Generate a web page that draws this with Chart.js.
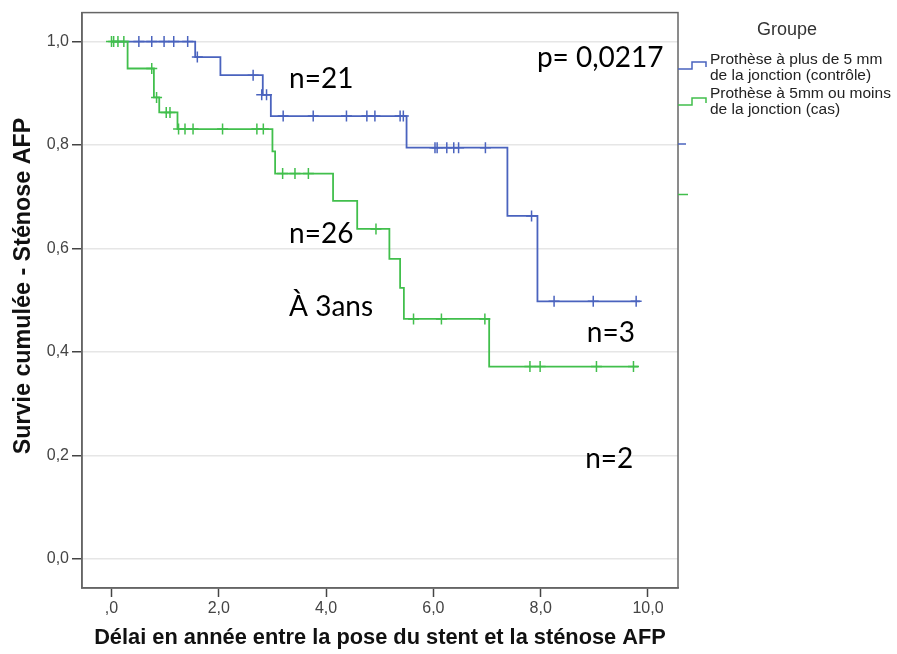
<!DOCTYPE html>
<html><head><meta charset="utf-8">
<script src="https://cdn.jsdelivr.net/npm/chart.js@4/dist/chart.umd.min.js"></script>
<style>html,body{margin:0;padding:0;background:#fff;} #c{display:block;}</style>
</head><body>
<canvas id="c" width="897" height="654"></canvas>
<script>
// ---- Axis ticks ----
const xTickValues = [0, 2, 4, 6, 8, 10];
const xTickLabels = [",0", "2,0", "4,0", "6,0", "8,0", "10,0"];
const yTickValues = [0, 0.2, 0.4, 0.6, 0.8, 1.0];
const yTickLabels = ["0,0", "0,2", "0,4", "0,6", "0,8", "1,0"];

// ---- Groups ----
const groupTitle = "Groupe";
const controlLabel = ["Prothèse à plus de 5 mm", "de la jonction (contrôle)"];
const caseLabel = ["Prothèse à 5mm ou moins", "de la jonction (cas)"];

// ---- Control group (blue) Kaplan-Meier steps ----
const controlTimes = [0, 1.56, 2.03, 2.82, 2.97, 5.50, 7.38, 7.94, 9.85];
const controlSurv  = [1.0, 0.970, 0.935, 0.897, 0.856, 0.795, 0.663, 0.498, 0.498];
const controlCensorTimes = [0.51, 0.75, 0.98, 1.16, 1.42, 1.60, 2.64, 2.80, 2.89, 3.20, 3.76, 4.38, 4.76, 4.91, 5.38, 5.44, 6.03, 6.07, 6.25, 6.38, 6.47, 6.97, 7.83, 8.25, 8.98, 9.78];
const controlCensorSurv  = [1.0, 1.0, 1.0, 1.0, 1.0, 0.970, 0.935, 0.897, 0.897, 0.856, 0.856, 0.856, 0.856, 0.856, 0.856, 0.856, 0.795, 0.795, 0.795, 0.795, 0.795, 0.795, 0.663, 0.498, 0.498, 0.498];

// ---- Case group (green) Kaplan-Meier steps ----
const caseTimes = [0, 0.30, 0.79, 0.89, 1.23, 3.00, 3.05, 4.13, 4.58, 5.18, 5.38, 5.45, 7.04, 9.82];
const caseSurv  = [1.0, 0.948, 0.892, 0.863, 0.831, 0.788, 0.745, 0.692, 0.638, 0.580, 0.524, 0.464, 0.372, 0.372];
const caseCensorTimes = [0.00, 0.04, 0.12, 0.23, 0.75, 0.84, 1.02, 1.09, 1.25, 1.37, 1.52, 2.07, 2.71, 2.83, 3.19, 3.42, 3.67, 4.93, 5.63, 6.15, 6.96, 7.80, 7.99, 9.04, 9.73];
const caseCensorSurv  = [1.0, 1.0, 1.0, 1.0, 0.948, 0.892, 0.863, 0.863, 0.831, 0.831, 0.831, 0.831, 0.831, 0.831, 0.745, 0.745, 0.745, 0.638, 0.464, 0.464, 0.464, 0.372, 0.372, 0.372, 0.372];

// ---- Annotation texts ----
const annotationTexts = ["p= 0,0217", "n=21", "n=26", "À 3ans", "n=3", "n=2"];

const xAxisTitle = "Délai en année entre la pose du stent et la sténose AFP";
const yAxisTitle = "Survie cumulée - Sténose AFP";

const BLUE = '#4a63be';
const GREEN = '#41bf4c';
const SANS = '"Liberation Sans", Arial, sans-serif';

const toPts = (xs, ys) => xs.map((v, i) => ({x: v, y: ys[i]}));

// annotation anchor positions (data coordinates)
const annotationAnchors = [[7.93, 0.969], [3.31, 0.927], [3.31, 0.629], [3.31, 0.488], [8.86, 0.437], [8.83, 0.194]];

const decor = {
  id: 'decor',
  afterDatasetsDraw(chart) {
    const {ctx, chartArea: a, scales: {x, y}} = chart;
    ctx.save();
    // frame
    ctx.strokeStyle = '#666';
    ctx.lineWidth = 1.5;
    ctx.strokeRect(a.left, a.top, a.right - a.left, a.bottom - a.top);
    // annotations
    ctx.fillStyle = '#000';
    ctx.font = '28px Lato';
    ctx.textAlign = 'left';
    ctx.textBaseline = 'middle';
    annotationTexts.forEach((t, i) => {
      const [ax, ay] = annotationAnchors[i];
      ctx.fillText(t, x.getPixelForValue(ax), y.getPixelForValue(ay));
    });
    // y axis title
    ctx.save();
    ctx.translate(24, 286);
    ctx.rotate(-Math.PI / 2);
    ctx.textAlign = 'center';
    ctx.fillStyle = '#111';
    ctx.font = 'bold 23.3px ' + SANS;
    ctx.fillText(yAxisTitle, 0, 0);
    ctx.restore();
    // legend
    const L = a.right;
    ctx.fillStyle = '#333';
    ctx.font = '18px ' + SANS;
    ctx.textAlign = 'center';
    ctx.fillText(groupTitle, L + 109, 30);
    ctx.textAlign = 'left';
    ctx.font = '15.5px ' + SANS;
    ctx.fillStyle = '#222';
    const items = [[controlLabel, BLUE, 60, 69], [caseLabel, GREEN, 94, 105]];
    items.forEach(([lines, col, ty, sy]) => {
      ctx.strokeStyle = col;
      ctx.lineWidth = 1.5;
      ctx.beginPath();
      ctx.moveTo(L, sy);
      ctx.lineTo(L + 14, sy);
      ctx.lineTo(L + 14, sy - 7);
      ctx.lineTo(L + 28, sy - 7);
      ctx.lineTo(L + 28, sy - 2);
      ctx.stroke();
      ctx.fillText(lines[0], L + 32, ty);
      ctx.fillText(lines[1], L + 32, ty + 16);
    });
    // small leftover symbol fragments at right edge
    ctx.lineWidth = 1.5;
    ctx.strokeStyle = BLUE;
    ctx.beginPath(); ctx.moveTo(L, 144); ctx.lineTo(L + 8, 144); ctx.stroke();
    ctx.strokeStyle = GREEN;
    ctx.beginPath(); ctx.moveTo(L, 194.5); ctx.lineTo(L + 10, 194.5); ctx.stroke();
    ctx.restore();
  }
};

new Chart(document.getElementById('c'), {
  type: 'line',
  data: {
    datasets: [
      { label: 'cas-censor', type: 'scatter', data: toPts(caseCensorTimes, caseCensorSurv),
        showLine: false, pointStyle: 'cross', pointRadius: 5.5, borderColor: GREEN, backgroundColor: GREEN, pointBorderWidth: 1.5 },
      { label: caseLabel.join(' '), data: toPts(caseTimes, caseSurv), stepped: true,
        borderColor: GREEN, borderWidth: 1.8, pointRadius: 0, fill: false },
      { label: 'controle-censor', type: 'scatter', data: toPts(controlCensorTimes, controlCensorSurv),
        showLine: false, pointStyle: 'cross', pointRadius: 5.5, borderColor: BLUE, backgroundColor: BLUE, pointBorderWidth: 1.5 },
      { label: controlLabel.join(' '), data: toPts(controlTimes, controlSurv), stepped: true,
        borderColor: BLUE, borderWidth: 1.8, pointRadius: 0, fill: false }
    ]
  },
  options: {
    responsive: false,
    animation: false,
    layout: { padding: { left: 0, right: 219, top: 10, bottom: 0 } },
    plugins: { legend: { display: false }, tooltip: { enabled: false } },
    scales: {
      x: {
        type: 'linear', min: -0.55, max: 10.56,
        afterBuildTicks: s => { s.ticks = xTickValues.map(v => ({value: v})); },
        afterFit: s => { s.height = 66; },
        ticks: { callback: v => xTickLabels[xTickValues.indexOf(v)], font: { size: 16, family: SANS }, color: '#444', padding: 2, maxRotation: 0, autoSkip: false },
        grid: { drawOnChartArea: false, tickLength: 9, tickColor: '#444', tickWidth: 1.5 },
        border: { color: '#666', width: 1.5 },
        title: { display: true, text: xAxisTitle, font: { size: 21.8, weight: 'bold', family: SANS }, color: '#111', padding: { top: 0, bottom: 3 } }
      },
      y: {
        type: 'linear', min: -0.056, max: 1.056,
        afterBuildTicks: s => { s.ticks = yTickValues.map(v => ({value: v})); },
        afterFit: s => { s.width = 82; },
        ticks: { callback: v => yTickLabels[yTickValues.indexOf(v)], font: { size: 16, family: SANS }, color: '#444', padding: 3, autoSkip: false },
        grid: { color: '#e6e6e6', lineWidth: 1.5, tickLength: 10, tickColor: '#444', tickWidth: 1.5 },
        border: { color: '#666', width: 1.5 },
        title: { display: false }
      }
    }
  },
  plugins: [decor]
});
</script>
</body></html>
